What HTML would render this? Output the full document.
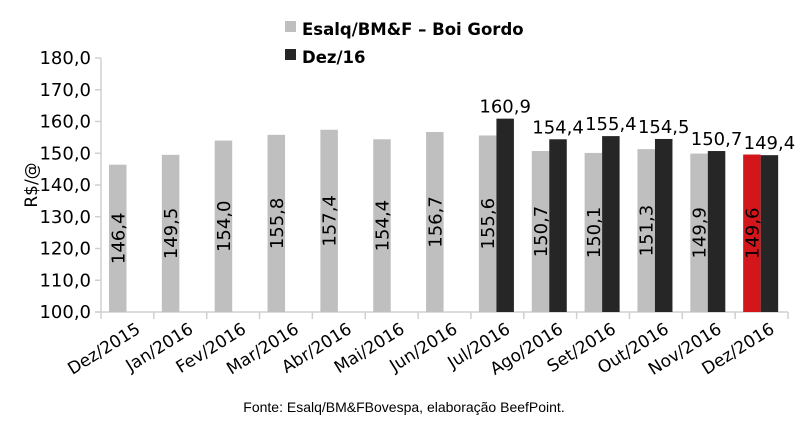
<!DOCTYPE html>
<html><head><meta charset="utf-8"><style>
body{margin:0;background:#fff;width:807px;height:420px;overflow:hidden}
svg text{font-family:"DejaVu Sans","Liberation Sans",sans-serif;fill:#000}
svg text.src{font-family:"Liberation Sans",sans-serif}
</style></head><body>
<svg id="chart" width="807" height="420">
<g>
 <rect x="285" y="21" width="11" height="11" fill="#bfbfbf"/>
 <text x="302" y="35" font-size="16.5" font-weight="bold">Esalq/BM&amp;F – Boi Gordo</text>
 <rect x="285" y="49" width="11" height="11" fill="#262626"/>
 <text x="302" y="63" font-size="16.5" font-weight="bold">Dez/16</text>
</g>
<text transform="translate(37,185) rotate(-90)" text-anchor="middle" font-size="17">R$/@</text>
<text class="src" x="404" y="412" text-anchor="middle" font-size="14">Fonte: Esalq/BM&amp;FBovespa, elaboração BeefPoint.</text>
<g id="plot"></g>
</svg>
<script>
const categories=["Dez/2015","Jan/2016","Fev/2016","Mar/2016","Abr/2016","Mai/2016","Jun/2016","Jul/2016","Ago/2016","Set/2016","Out/2016","Nov/2016","Dez/2016"];
const esalq=[146.4,149.5,154.0,155.8,157.4,154.4,156.7,155.6,150.7,150.1,151.3,149.9,149.6];
const dez16=[null,null,null,null,null,null,null,160.9,154.4,155.4,154.5,150.7,149.4];
const yTicks=[100,110,120,130,140,150,160,170,180];
const x0=101,x1=788,yB=312,yT=58,yMin=100,yMax=180;
const cw=(x1-x0)/categories.length;
const y=v=>yB-(v-yMin)/(yMax-yMin)*(yB-yT);
const xc=i=>x0+i*cw;
const fmt=v=>v.toFixed(1).replace('.',',');
const NS="http://www.w3.org/2000/svg",g=document.getElementById('plot');
function mk(t,a,txt){const e=document.createElementNS(NS,t);for(const k in a)e.setAttribute(k,a[k]);if(txt!=null)e.textContent=txt;g.appendChild(e);return e;}
let ax=mk('line',{x1:x0,y1:yT,x2:x0,y2:yB,stroke:'#d0d0d0','stroke-width':1.5});


let bx=mk('line',{x1:x0-6,y1:yB,x2:x1,y2:yB,stroke:'#d0d0d0','stroke-width':1.5});


yTicks.forEach(v=>{
 let t=mk('line',{x1:x0-6,y1:y(v),x2:x0,y2:y(v),stroke:'#d0d0d0','stroke-width':1.5});
 
 
 let l=mk('text',{x:x0-10,y:y(v)+6,'text-anchor':'end','font-size':18},fmt(v));
 
 
});
for(let i=0;i<=categories.length;i++){
 let t=mk('line',{x1:xc(i),y1:yB,x2:xc(i),y2:yB+7,stroke:'#d0d0d0','stroke-width':1.5});
 
 
}
const bw=17.5;
categories.forEach((c,i)=>{
 const bx0=xc(i)+8;
 const v=esalq[i];
 let r=mk('rect',{x:bx0,y:y(v),width:bw,height:yB-y(v),fill:i===12?'#d2161b':'#bfbfbf'});
 
 
 const cy=(y(v)+yB)/2;
 let l=mk('text',{transform:`translate(${bx0+bw/2+6.5},${cy}) rotate(-90)`,'text-anchor':'middle','font-size':18},fmt(v));
 
 
 if(dez16[i]!=null){
  const d=dez16[i];
  let r2=mk('rect',{x:bx0+bw,y:y(d),width:bw,height:yB-y(d),fill:'#262626'});
  
  
  let l2=mk('text',{x:bx0+bw*1.5,y:y(d)-6,'text-anchor':'middle','font-size':18},fmt(d));
  
  
 }
 let cl=mk('text',{transform:`translate(${xc(i)+cw/2+14},${yB+20}) rotate(-32)`,'text-anchor':'end','font-size':17},c);
 
 
});
</script>
</body></html>
